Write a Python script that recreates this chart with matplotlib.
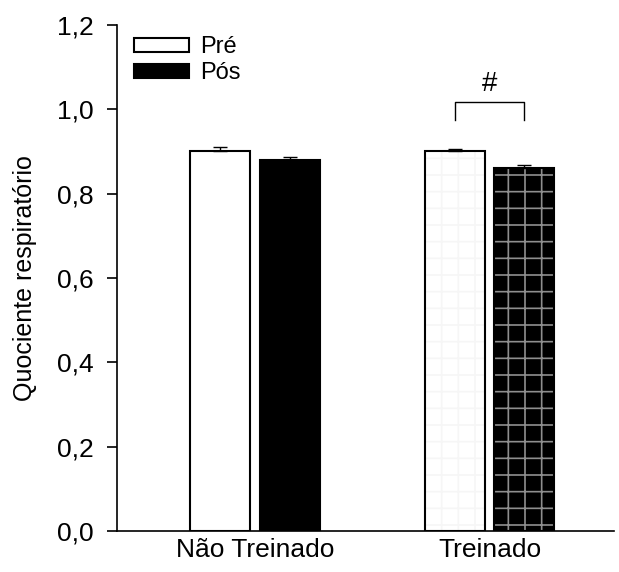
import numpy as np
import matplotlib.pyplot as plt
from matplotlib.patches import Patch

plt.rcParams['font.family'] = ['Liberation Sans', 'DejaVu Sans']
plt.rcParams['hatch.linewidth'] = 1.2

groups = ['Não Treinado', 'Treinado']
pre_vals = [0.900, 0.900]
pos_vals = [0.880, 0.862]
pre_err = [0.010, 0.007]
pos_err = [0.006, 0.005]
yticks = [0.0, 0.2, 0.4, 0.6, 0.8, 1.0, 1.2]

fig = plt.figure(figsize=(6.19, 5.72), dpi=100)
ax = fig.add_axes([0.189, 0.0717, 0.803, 0.8846])

x = np.arange(len(groups))
w = 0.256
off = 0.149

# Não Treinado: plain white / black
ax.bar(x[0] - off, pre_vals[0], w, color='white', edgecolor='black', linewidth=1.5, zorder=2)
ax.bar(x[0] + off, pos_vals[0], w, color='black', edgecolor='black', linewidth=1.5, zorder=2)

# Treinado: grid-patterned bars
ax.bar(x[1] - off, pre_vals[1], w, color='white', edgecolor='#f6f6f6', hatch='+', linewidth=0, zorder=2)
ax.bar(x[1] - off, pre_vals[1], w, color='none', edgecolor='black', linewidth=1.5, zorder=3)
ax.bar(x[1] + off, pos_vals[1], w, color='black', edgecolor='#8f8f8f', hatch='+', linewidth=0, zorder=2)
ax.bar(x[1] + off, pos_vals[1], w, color='none', edgecolor='black', linewidth=1.5, zorder=3)

ax.errorbar(x - off, pre_vals, yerr=[np.zeros(2), pre_err], fmt='none', ecolor='black',
            elinewidth=1, capsize=5, capthick=1, zorder=4)
ax.errorbar(x + off, pos_vals, yerr=[np.zeros(2), pos_err], fmt='none', ecolor='black',
            elinewidth=1, capsize=5, capthick=1, zorder=4)

# significance bracket
bx1, bx2 = x[1] - off, x[1] + off
ax.plot([bx1, bx1, bx2, bx2], [0.974, 1.018, 1.018, 0.974], color='black', lw=1)
ax.text((bx1 + bx2) / 2, 1.03, '#', ha='center', va='bottom', fontsize=20)

handles = [Patch(facecolor='white', edgecolor='black', linewidth=1.5),
           Patch(facecolor='black', edgecolor='black', linewidth=1.5)]
ax.legend(handles, ['Pré', 'Pós'], loc='upper left', bbox_to_anchor=(0.0, 1.01), frameon=False,
          fontsize=17, handlelength=2.37, handleheight=0.55, labelspacing=0.15, handletextpad=0.45,
          borderaxespad=0.3)

ax.set_xlim(-0.5885, 1.531)
ax.set_ylim(0, 1.2)
ax.set_yticks(yticks)
ax.set_yticklabels([f'{v:.1f}'.replace('.', ',') for v in yticks], fontsize=19)
ax.set_xticks(x)
ax.set_xticklabels(groups, fontsize=19)
ax.tick_params(axis='x', length=0, pad=5)
ax.tick_params(axis='y', length=7, width=1.2, direction='out', pad=10)
ax.set_ylabel('Quociente respiratório', fontsize=18, labelpad=14)
ax.spines['top'].set_visible(False)
ax.spines['right'].set_visible(False)
ax.spines['left'].set_linewidth(1.2)
ax.spines['bottom'].set_linewidth(1.2)

fig.savefig('out.png', dpi=100)
